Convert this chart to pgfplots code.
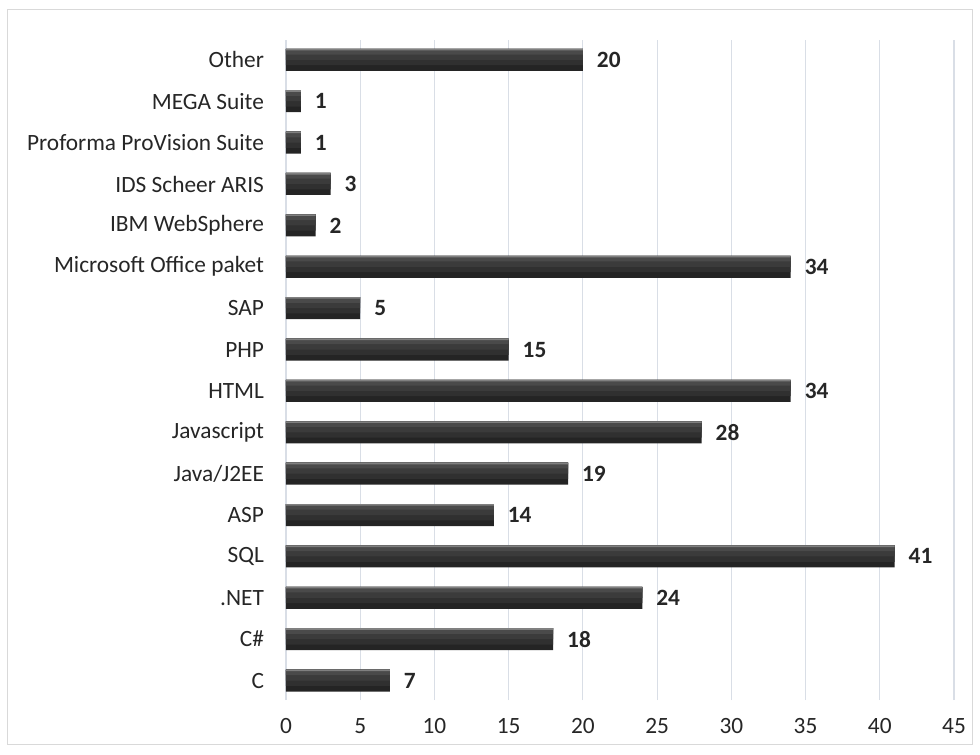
\documentclass[border=0pt]{standalone}
\usepackage{pgfplots}
\usepackage{pgfplotstable}
\pgfplotsset{compat=1.18}
\usepackage{fontspec}
\setmainfont{Carlito}

\definecolor{gridc}{HTML}{D9DEE6}
\definecolor{framec}{HTML}{D9D9D9}
\definecolor{txt}{HTML}{262626}

% value, category position (0 = C at the bottom)
\pgfplotstableread{
val pos
7   0
18  1
24  2
41  3
14  4
19  5
28  6
34  7
15  8
5   9
34  10
2   11
3   12
1   13
1   14
20  15
}\skills

\begin{document}
\begin{tikzpicture}[x=0.75pt,y=0.75pt]
% page and chart frame, in px measured from the axis corner
\path (-286,-54) rectangle (694,700);
\draw[framec, line width=0.75pt] (-278,-44) rectangle (686,690);
\begin{axis}[
    at={(0,0)}, anchor=south west,
    scale only axis,
    width=501pt, height=495pt,
    xbar,
    xmin=0, xmax=45,
    ymin=-0.47, ymax=15.48,
    xtick={0,5,...,45},
    ytick={0,...,15},
    yticklabels={C, C\#, .NET, SQL, ASP, Java/J2EE, Javascript, HTML, PHP, SAP,
      Microsoft Office paket, IBM WebSphere, IDS Scheer ARIS,
      Proforma ProVision Suite, MEGA Suite, Other},
    axis line style={draw=none},
    major tick length=0pt,
    xmajorgrids,
    grid style={gridc, line width=0.8pt},
    ticklabel style={font=\fontsize{17.5}{20}\selectfont, text=txt},
    yticklabel style={xshift=-13pt},
    xticklabel style={yshift=-10.5pt},
    /pgf/number format/assume math mode=true,
    clip=false,
]
% bars built from stacked bands to imitate the glossy gradient
\addplot[draw=none, fill=black!86, bar width=16.5pt, bar shift=0pt] table[x=val, y=pos] {\skills};
\addplot[draw=none, fill=black!81, bar width=12.25pt, bar shift=2.125pt] table[x=val, y=pos] {\skills};
\addplot[draw=none, fill=black!77, bar width=8.25pt, bar shift=4.125pt] table[x=val, y=pos] {\skills};
\addplot[draw=none, fill=black!71, bar width=4.25pt, bar shift=6.125pt] table[x=val, y=pos] {\skills};
\addplot[draw=none, fill=black!50, bar width=1.2pt, bar shift=7.65pt,
    nodes near coords,
    nodes near coords style={font=\bfseries\fontsize{17.5}{20}\selectfont, text=txt,
      xshift=7pt, yshift=-7.65pt}]
  table[x=val, y=pos] {\skills};
\end{axis}
\end{tikzpicture}
\end{document}
